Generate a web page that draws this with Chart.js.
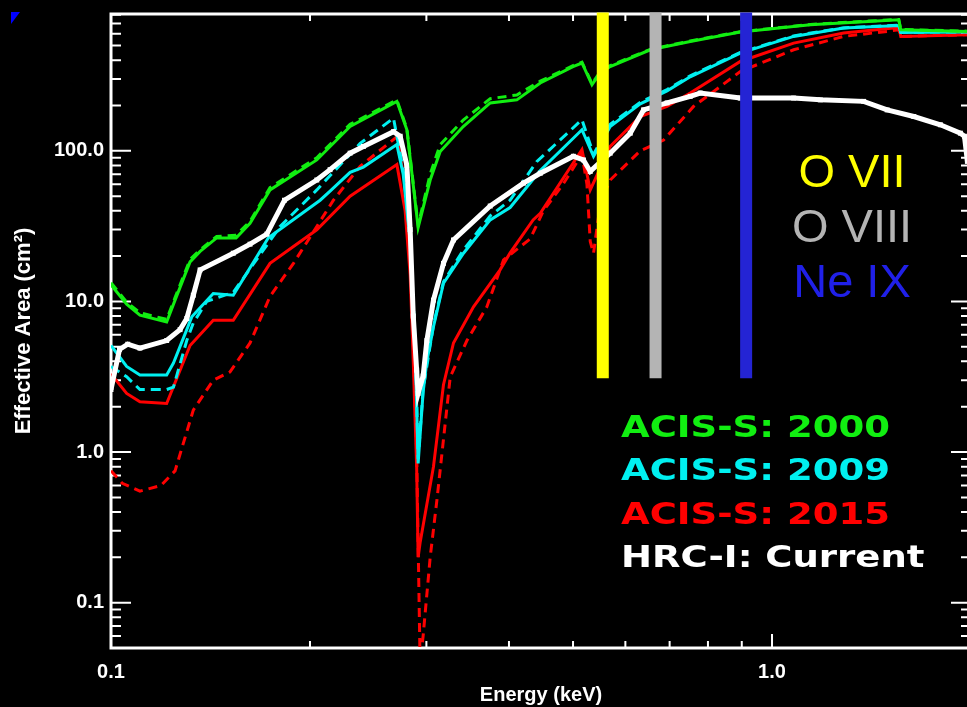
<!DOCTYPE html>
<html>
<head>
<meta charset="utf-8">
<script src="https://cdn.jsdelivr.net/npm/chart.js@4.4.1/dist/chart.umd.min.js"></script>
<style>
  html, body { margin: 0; padding: 0; background: #000; overflow: hidden; }
  canvas { display: block; }
</style>
</head>
<body>
<canvas id="chart" width="975" height="707"></canvas>
<script>
// energy in keV, effective area in cm^2

// ACIS-S 2000 (solid and dashed share the energy grid)
const acis2000E = [0.100, 0.1056, 0.1106, 0.1214, 0.1250, 0.1317, 0.1364, 0.1445, 0.1546, 0.1623, 0.1740, 0.2048, 0.2300, 0.2707, 0.2803, 0.2915, 0.3040, 0.3148, 0.3411, 0.3747, 0.4111, 0.4461, 0.5000, 0.5158, 0.5341, 0.5500, 0.5691, 0.6545, 0.7521, 0.8954, 1.1428, 1.3760, 1.555, 1.566, 1.975];
const acis2000A = [12.9, 9.6, 8.1, 7.3, 10.2, 18.3, 21.5, 26.4, 26.4, 33, 55, 87, 145, 213, 138, 31, 64, 99, 145, 208, 218, 282, 362, 383, 275, 330, 363, 469, 532, 615, 687, 720, 741, 637, 621];
const acis2000dA = [13.3, 9.9, 8.4, 7.6, 10.6, 19, 22, 27, 27.5, 34, 57, 90, 150, 218, 140, 32, 70, 110, 160, 222, 235, 290, 368, 388, 280, 335, 368, 472, 536, 618, 690, 724, 745, 640, 623];

// ACIS-S 2009
const acis2009E = [0.100, 0.1056, 0.1106, 0.1214, 0.1243, 0.1302, 0.1325, 0.1428, 0.1531, 0.1730, 0.2072, 0.2145, 0.2300, 0.2409, 0.2707, 0.2767, 0.2835, 0.2885, 0.2915, 0.2966, 0.3005, 0.3075, 0.3184, 0.3414, 0.3747, 0.4016, 0.4461, 0.5158, 0.5370, 0.5691, 0.6320, 0.6938, 0.7521, 0.8954, 1.0782, 1.2834, 1.555, 1.566, 1.975];
const acis2009A = [5.1, 3.7, 3.25, 3.25, 3.9, 6.5, 7.9, 11.3, 11.0, 26.5, 47, 54, 72, 78, 110, 70, 25, 5, 0.84, 2.5, 4.0, 6.8, 13.2, 20.9, 34.8, 42, 74, 138, 92, 145, 205, 250, 310, 446, 575, 653, 680, 610, 615];
const acis2009dE = [0.100, 0.1056, 0.1106, 0.1214, 0.1243, 0.1302, 0.1332, 0.1396, 0.1531, 0.1802, 0.2048, 0.2382, 0.2675, 0.2767, 0.2835, 0.2885, 0.2915, 0.2966, 0.3075, 0.3184, 0.3414, 0.3747, 0.4016, 0.4409, 0.5158, 0.5370, 0.5691, 0.6320, 0.6938, 0.7521, 0.8954, 1.0782, 1.2834, 1.555, 1.566, 1.975];
const acis2009dA = [3.7, 3.16, 2.6, 2.6, 2.7, 5.5, 7.2, 10, 11.5, 31.4, 55, 112, 165, 75, 26, 5.5, 0.9, 2.6, 7, 13.5, 22, 37, 47, 85, 161, 95, 150, 210, 255, 315, 450, 580, 655, 682, 612, 617];

// ACIS-S 2015
const acis2015E = [0.100, 0.1056, 0.1106, 0.1214, 0.1317, 0.1428, 0.1531, 0.1740, 0.2048, 0.2300, 0.2707, 0.2786, 0.2835, 0.2866, 0.2900, 0.2915, 0.2935, 0.3005, 0.3075, 0.3184, 0.3297, 0.3535, 0.3878, 0.4016, 0.4351, 0.4461, 0.5158, 0.5309, 0.5691, 0.6320, 0.6938, 0.7521, 0.8954, 1.0782, 1.2834, 1.526, 1.555, 1.566, 1.975];
const acis2015A = [3.3, 2.45, 2.16, 2.1, 5.1, 7.5, 7.5, 17.9, 29.9, 50, 81, 40, 15, 4, 0.8, 0.2, 0.25, 0.45, 0.8, 2.8, 5.3, 9.2, 16.2, 21, 34.8, 38.5, 102, 55, 107, 169, 197, 242, 392, 519, 606, 653, 660, 575, 590];
const acis2015dE = [0.100, 0.1040, 0.1106, 0.1190, 0.1250, 0.1332, 0.1428, 0.1513, 0.1623, 0.1740, 0.1888, 0.2170, 0.2382, 0.2707, 0.2786, 0.2835, 0.2866, 0.2900, 0.2935, 0.2966, 0.3040, 0.3112, 0.3260, 0.3455, 0.3703, 0.3925, 0.4306, 0.4510, 0.4830, 0.5158, 0.5248, 0.5309, 0.5370, 0.5500, 0.5691, 0.6320, 0.6856, 0.7607, 0.8954, 1.0782, 1.2834, 1.4935, 1.555, 1.566, 1.975];
const acis2015dA = [0.75, 0.62, 0.55, 0.60, 0.75, 1.9, 3.0, 3.4, 5.3, 10.8, 17.9, 47, 79, 124, 60, 20, 5, 1, 0.04, 0.06, 0.2, 0.48, 3.16, 5.5, 9.2, 18.9, 26, 40, 60, 95, 60, 25, 20.9, 45, 64, 100, 118, 197, 336, 469, 575, 621, 637, 575, 590];

// HRC-I current
const hrcE = [0.100, 0.1030, 0.1060, 0.1106, 0.1214, 0.1272, 0.1302, 0.1332, 0.1364, 0.1531, 0.1623, 0.1721, 0.1830, 0.2048, 0.2145, 0.2300, 0.2409, 0.2675, 0.2738, 0.2803, 0.2835, 0.2866, 0.2900, 0.2915, 0.2966, 0.3005, 0.3075, 0.3184, 0.3297, 0.3747, 0.4207, 0.4461, 0.5006, 0.5185, 0.5309, 0.5691, 0.6103, 0.6393, 0.6938, 0.7521, 0.7787, 0.8954, 1.0782, 1.1833, 1.3760, 1.4935, 1.6385, 1.7976, 1.9275, 1.955, 1.975];
const hrcA = [2.6, 4.8, 5.2, 4.9, 5.5, 6.5, 7.7, 11, 16.2, 20.9, 24, 28, 47, 64, 75, 96.5, 107, 134, 125, 80, 30, 8, 3.5, 2.45, 3.2, 5.5, 10.2, 17.9, 25.6, 43, 61, 71, 92, 87, 73, 96.5, 131, 187, 208, 230, 242, 224, 224, 218, 213, 187, 169, 149, 131, 125, 85];

// emission lines (vertical bands)
const lineNames = ['O VII', 'O VIII', 'Ne IX'];
const lineEnergies = [0.5546, 0.6665, 0.9138];
const lineColors = ['#ffff00', '#b4b4b4', '#2424d4'];
const lineTextColors = ['#ffff00', '#b4b4b4', '#2020e8'];
const bandRange = [3.09, 830];

const legendLabels = ['ACIS-S: 2000', 'ACIS-S: 2009', 'ACIS-S: 2015', 'HRC-I: Current'];
const legendColors = ['#11ee11', '#00f0f0', '#ff0000', '#ffffff'];

// axes
const xMajorTicks = [0.1, 1];
const xTickLabels = ['0.1', '1.0'];
const xMinorTicks = [0.2, 0.3, 0.4, 0.5, 0.6, 0.7, 0.8, 0.9, 2];
const yMajorTicks = [0.1, 1, 10, 100];
const yTickLabels = ['0.1', '1.0', '10.0', '100.0'];
const yMinorTicks = [0.06, 0.07, 0.08, 0.09, 0.2, 0.3, 0.4, 0.5, 0.6, 0.7, 0.8, 0.9,
  2, 3, 4, 5, 6, 7, 8, 9, 20, 30, 40, 50, 60, 70, 80, 90, 200, 300, 400, 500, 600, 700, 800];

function pts(E, A) {
  return E.map((x, i) => ({ x: x, y: A[i] }));
}

function curve(E, A, color, width, dash) {
  return {
    data: pts(E, A),
    borderColor: color,
    borderWidth: width,
    borderDash: dash || [],
    pointRadius: 0,
    tension: 0,
    clip: 0
  };
}

const bands = lineEnergies.map((e, i) => ({
  data: [{ x: e, y: bandRange[0] }, { x: e, y: bandRange[1] }],
  borderColor: lineColors[i],
  borderWidth: 12,
  borderCapStyle: 'butt',
  pointRadius: 0,
  clip: 2
}));

const hrc = curve(hrcE, hrcA, '#ffffff', 5);
hrc.pointRadius = 3.5;
hrc.pointStyle = 'rect';
hrc.pointBackgroundColor = '#ffffff';
hrc.pointBorderWidth = 0;

// inward IDL-style ticks and the box
const framePlugin = {
  id: 'frame',
  beforeDatasetsDraw(chart) {
    const { ctx, chartArea: a, scales: { x, y } } = chart;
    ctx.save();
    ctx.strokeStyle = '#fff';
    ctx.lineWidth = 3;
    ctx.strokeRect(a.left, a.top, a.right - a.left, a.bottom - a.top);
    ctx.lineWidth = 2;
    ctx.beginPath();
    const xt = (v, len) => {
      const px = x.getPixelForValue(v);
      ctx.moveTo(px, a.bottom); ctx.lineTo(px, a.bottom - len);
      ctx.moveTo(px, a.top); ctx.lineTo(px, a.top + len);
    };
    const yt = (v, len) => {
      const py = y.getPixelForValue(v);
      ctx.moveTo(a.left, py); ctx.lineTo(a.left + len, py);
      ctx.moveTo(a.right, py); ctx.lineTo(a.right - len, py);
    };
    xMajorTicks.forEach(v => xt(v, 14));
    xMinorTicks.forEach(v => xt(v, 7));
    yMajorTicks.forEach(v => yt(v, 20));
    yMinorTicks.forEach(v => yt(v, 10));
    ctx.stroke();
    ctx.restore();
  }
};

const labelPlugin = {
  id: 'labels',
  afterDatasetsDraw(chart) {
    const ctx = chart.ctx;
    ctx.save();
    ctx.textBaseline = 'alphabetic';
    ctx.textAlign = 'center';
    ctx.font = '47px "Liberation Sans"';
    lineNames.forEach((t, i) => {
      ctx.fillStyle = lineTextColors[i];
      ctx.fillText(t, 852, 187 + i * 55);
    });
    ctx.textAlign = 'left';
    ctx.font = 'bold 31px "DejaVu Sans"';
    const sx = 269 / ctx.measureText(legendLabels[0]).width;
    legendLabels.forEach((t, i) => {
      ctx.save();
      ctx.translate(621, 437 + i * 43.3);
      ctx.scale(sx, 1);
      ctx.fillStyle = legendColors[i];
      ctx.fillText(t, 0, 0);
      ctx.restore();
    });
    ctx.restore();
  },
  afterDraw(chart) {
    const ctx = chart.ctx;
    ctx.save();
    ctx.fillStyle = '#0000ff';
    ctx.beginPath();
    ctx.moveTo(11, 12); ctx.lineTo(20, 12); ctx.lineTo(11, 24);
    ctx.closePath();
    ctx.fill();
    ctx.restore();
  }
};

const tickFont = { family: 'Liberation Sans', size: 20, weight: 'bold' };

new Chart(document.getElementById('chart'), {
  type: 'line',
  data: {
    datasets: [
      ...bands,
      curve(acis2000E, acis2000A, legendColors[0], 3),
      curve(acis2000E, acis2000dA, legendColors[0], 3, [9, 6]),
      hrc,
      curve(acis2009E, acis2009A, legendColors[1], 3),
      curve(acis2009dE, acis2009dA, legendColors[1], 3, [10, 6]),
      curve(acis2015E, acis2015A, legendColors[2], 3),
      curve(acis2015dE, acis2015dA, legendColors[2], 3, [9, 6])
    ]
  },
  options: {
    responsive: false,
    animation: false,
    events: [],
    layout: { padding: { top: 14, right: 4, left: 0, bottom: 0 } },
    plugins: {
      legend: { display: false },
      tooltip: { enabled: false }
    },
    scales: {
      x: {
        type: 'logarithmic',
        min: 0.1,
        max: 2.0,
        grid: { display: false, drawTicks: false },
        border: { display: false },
        afterBuildTicks: s => { s.ticks = xMajorTicks.map(v => ({ value: v })); },
        afterFit: s => { s.height = 59; s.paddingLeft = 0; s.paddingRight = 0; },
        ticks: {
          color: '#fff',
          font: tickFont,
          padding: 12,
          maxRotation: 0,
          autoSkip: false,
          callback: (v, i) => xTickLabels[i]
        },
        title: {
          display: true,
          text: 'Energy (keV)',
          color: '#fff',
          font: { family: 'Liberation Sans', size: 20, weight: 'bold' },
          padding: { top: 0, bottom: 0 }
        }
      },
      y: {
        type: 'logarithmic',
        min: 0.05,
        max: 810,
        grid: { display: false, drawTicks: false },
        border: { display: false },
        afterBuildTicks: s => { s.ticks = yMajorTicks.map(v => ({ value: v })); },
        afterFit: s => { s.width = 111; s.paddingTop = 0; s.paddingBottom = 0; },
        ticks: {
          color: '#fff',
          font: tickFont,
          padding: 7,
          autoSkip: false,
          callback: (v, i) => yTickLabels[i]
        },
        title: {
          display: true,
          text: 'Effective Area (cm²)',
          color: '#fff',
          font: { family: 'Liberation Sans', size: 22, weight: 'bold' },
          padding: { top: 11, bottom: 0 }
        }
      }
    }
  },
  plugins: [framePlugin, labelPlugin]
});
</script>
</body>
</html>
